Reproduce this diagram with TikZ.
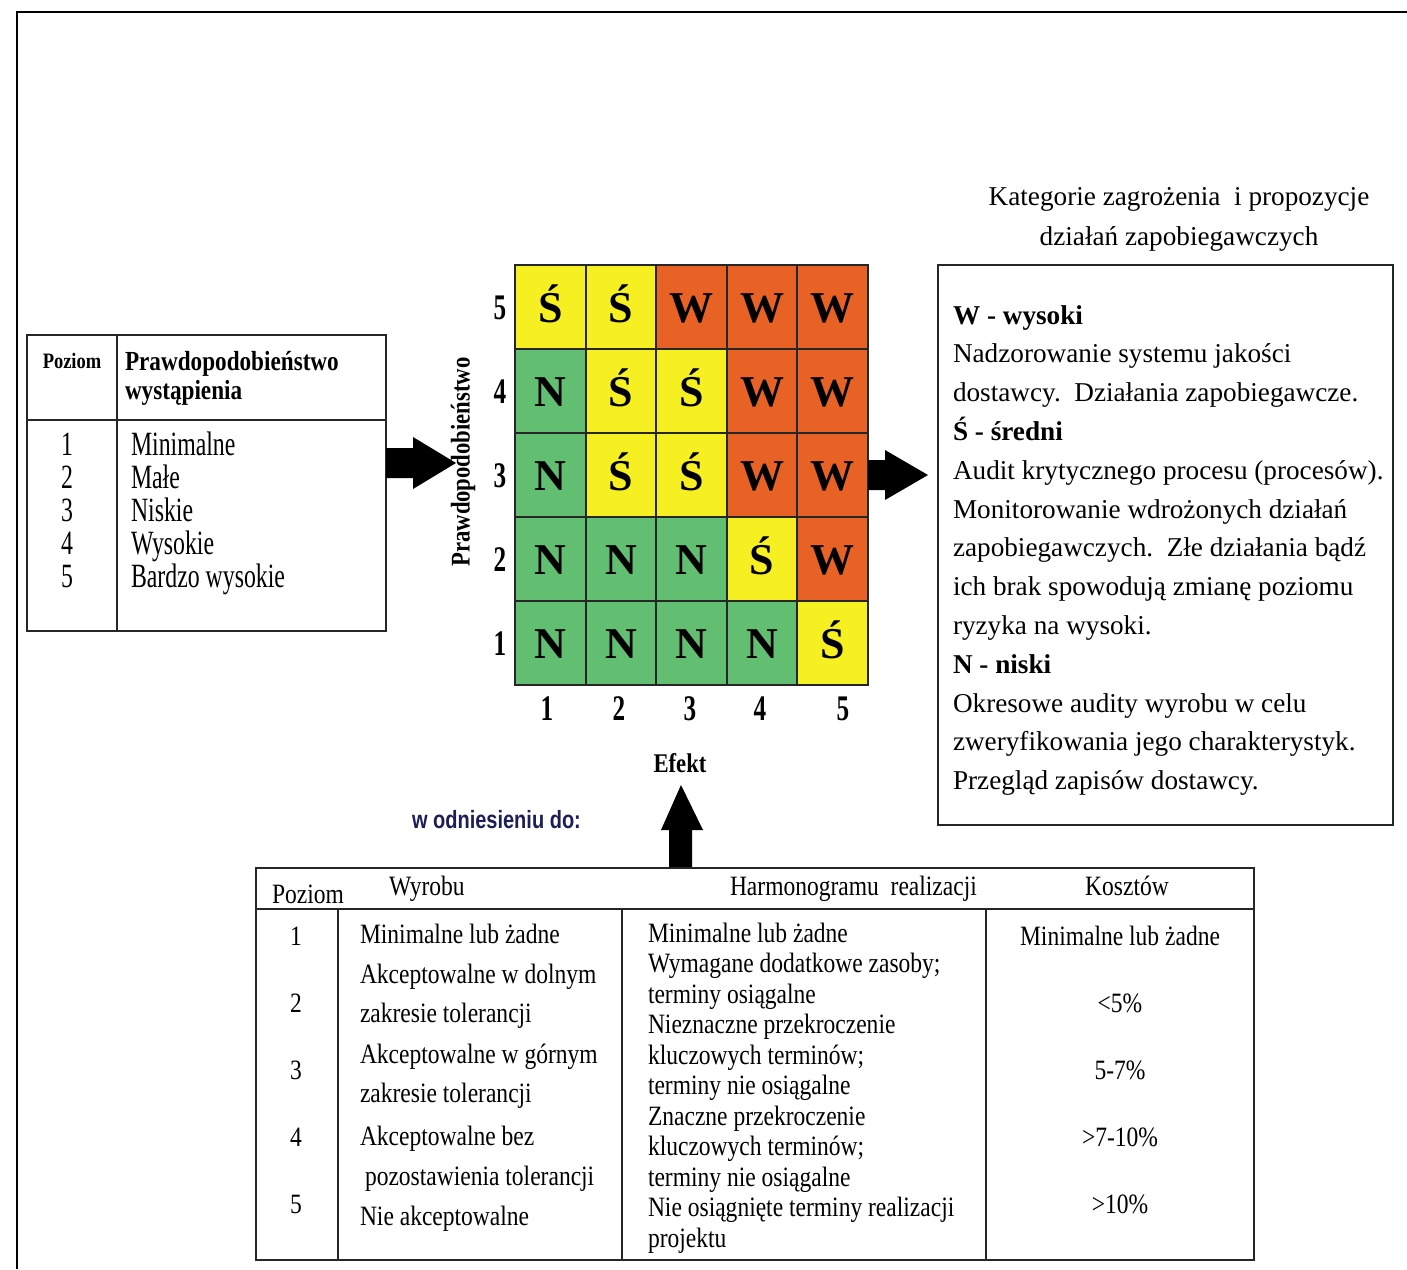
\documentclass[tikz,border=0pt]{standalone}
\usepackage{fontspec}
\setmainfont{Liberation Serif}
\newfontfamily\condserif[FakeStretch=0.84]{Liberation Serif}
\newfontfamily\narrowserif[FakeStretch=0.7]{Liberation Serif}
\newfontfamily\condsans[FakeStretch=0.8]{Liberation Sans}
\definecolor{riskW}{RGB}{232,98,38}
\definecolor{riskS}{RGB}{246,240,34}
\definecolor{riskN}{RGB}{98,190,112}
\definecolor{navyink}{RGB}{28,30,88}
\def\letterW{W}
\def\letterS{Ś}
\def\letterN{N}
\begin{document}
\begin{tikzpicture}[x=0.5pt,y=-0.5pt,
  lbl/.style={inner sep=0pt, outer sep=0pt},
  lw/.style={lbl, anchor=base west},
  lc/.style={lbl, anchor=base},
  rule/.style={line width=0.8pt, draw=black!85},
  kn/.style={lw, font=\fontsize{13.6}{16}\selectfont},
  kb/.style={lw, font=\bfseries\fontsize{13.6}{16}\selectfont},
  lefttxt/.style={font=\narrowserif\fontsize{17}{20}\selectfont},
  lefthead/.style={font=\condserif\bfseries\fontsize{13.8}{16}\selectfont},
  tabtxt/.style={font=\condserif\fontsize{14}{16}\selectfont},
  cell/.style={draw=black!85, line width=1pt, minimum width=35.3pt, minimum height=42pt,
    inner sep=0pt, text height=15pt, text depth=0pt, font=\bfseries\fontsize{22}{22}\selectfont},
  axisnum/.style={lc, font=\narrowserif\bfseries\fontsize{18}{18}\selectfont},
  block/.style={fill=black}
]
\useasboundingbox (0,0) rectangle (1407,1269);

% page frame
\draw[line width=1pt] (17,1269) -- (17,12) -- (1407,12);

% ---------- risk matrix ----------
\foreach \lst [count=\r] in {{S,S,W,W,W},{N,S,S,W,W},{N,S,S,W,W},{N,N,N,S,W},{N,N,N,N,S}} {
  \foreach \k [count=\c] in \lst {
    \node[cell, fill=risk\k] (c\r\c) at ({515+(\c-0.5)*70.6},{265+(\r-0.5)*84}) {\csname letter\k\endcsname};
  }
}
\foreach \r in {1,...,5} {
  \pgfmathtruncatemacro\lev{6-\r}
  \node[axisnum] (row\lev) at (500,{265+(\r-0.5)*84+12}) {\lev};
}
\foreach \x [count=\c] in {547,619,690,760,843} {
  \node[axisnum] (col\c) at (\x,720) {\c};
}
\node[lbl, rotate=90, font=\condserif\bfseries\fontsize{13.5}{16}\selectfont] (prob) at (463,462) {Prawdopodobieństwo};
\node[lc, font=\condserif\bfseries\fontsize{13.5}{16}\selectfont] (efekt) at (680,772) {Efekt};

% ---------- probability table ----------
\draw[rule] (27,335) rectangle (386,631);
\draw[rule] (27,420) -- (386,420);
\draw[rule] (117,335) -- (117,631);
\node[lc, font=\condserif\bfseries\fontsize{11}{13}\selectfont] (pzh) at (72,368) {Poziom};
\node[lw, lefthead] (ph1) at (125,370) {Prawdopodobieństwo};
\node[lw, lefthead] (ph2) at (125,399) {wystąpienia};
\foreach \txt [count=\i] in {Minimalne,Małe,Niskie,Wysokie,Bardzo wysokie} {
  \pgfmathsetmacro\yb{455+33*(\i-1)}
  \node[lc, lefttxt] (pn\i) at (67,\yb) {\i};
  \node[lw, lefttxt] (pt\i) at (131,\yb) {\txt};
}

% ---------- block arrows ----------
\fill[block] (386,448) -- (413,448) -- (413,437) -- (456,463) -- (413,489) -- (413,478) -- (386,478) -- cycle;
\fill[block] (868,460) -- (885,460) -- (885,450) -- (928,475) -- (885,500) -- (885,490) -- (868,490) -- cycle;
\fill[block] (669,868) -- (669,830) -- (661,830) -- (681,785) -- (703,830) -- (692,830) -- (692,868) -- cycle;

% ---------- categories box ----------
\node[lc, font=\fontsize{13.6}{16}\selectfont] (kt1) at (1179,205) {Kategorie zagrożenia\ \ i propozycje};
\node[lc, font=\fontsize{13.6}{16}\selectfont] (kt2) at (1179,245) {działań zapobiegawczych};
\draw[rule] (938,265) rectangle (1393,825);
\foreach \s/\txt [count=\i from 0] in {
  b/{W - wysoki},
  n/{Nadzorowanie systemu jakości},
  n/{dostawcy.\ \ Działania zapobiegawcze.},
  b/{Ś - średni},
  n/{Audit krytycznego procesu (procesów).},
  n/{Monitorowanie wdrożonych działań},
  n/{zapobiegawczych.\ \ Złe działania bądź},
  n/{ich brak spowodują zmianę poziomu},
  n/{ryzyka na wysoki.},
  b/{N - niski},
  n/{Okresowe audity wyrobu w celu},
  n/{zweryfikowania jego charakterystyk.},
  n/{Przegląd zapisów dostawcy.}} {
  \node[k\s] (kl\i) at (953,{324+38.8*\i}) {\txt};
}

% ---------- effect table ----------
\node[lw, font=\condsans\bfseries\fontsize{12.5}{14}\selectfont, text=navyink] (ref) at (412,828) {w odniesieniu do:};
\draw[rule] (256,868) rectangle (1254,1260);
\draw[rule] (256,909) -- (1254,909);
\foreach \x in {338,622,986} { \draw[rule] (\x,909) -- (\x,1260); }
\node[lw, tabtxt] (h1) at (272,903) {Poziom};
\node[lw, tabtxt] (h2) at (389,895) {Wyrobu};
\node[lw, tabtxt] (h3) at (730,895) {Harmonogramu\ \ realizacji};
\node[lc, tabtxt] (h4) at (1127,895) {Kosztów};
\foreach \i in {1,...,5} {
  \node[lc, tabtxt] (en\i) at (296,{945+67*(\i-1)}) {\i};
}
\foreach \x/\y/\txt [count=\i] in {
  360/943/{Minimalne lub żadne},
  360/983/{Akceptowalne w dolnym},
  360/1022/{zakresie tolerancji},
  360/1063/{Akceptowalne w górnym},
  360/1102/{zakresie tolerancji},
  360/1145/{Akceptowalne bez},
  365/1185/{pozostawienia tolerancji},
  360/1225/{Nie akceptowalne}} {
  \node[lw, tabtxt] (ew\i) at (\x,\y) {\txt};
}
\foreach \txt [count=\i from 0] in {
  {Minimalne lub żadne},
  {Wymagane dodatkowe zasoby;},
  {terminy osiągalne},
  {Nieznaczne przekroczenie},
  {kluczowych terminów;},
  {terminy nie osiągalne},
  {Znaczne przekroczenie},
  {kluczowych terminów;},
  {terminy nie osiągalne},
  {Nie osiągnięte terminy realizacji},
  {projektu}} {
  \node[lw, tabtxt] (eh\i) at (648,{942+30.5*\i}) {\txt};
}
\foreach \txt [count=\i] in {{Minimalne lub żadne},{<5\%},{5-7\%},{>7-10\%},{>10\%}} {
  \node[lc, tabtxt] (ek\i) at (1120,{945+67*(\i-1)}) {\txt};
}
\end{tikzpicture}
\end{document}
